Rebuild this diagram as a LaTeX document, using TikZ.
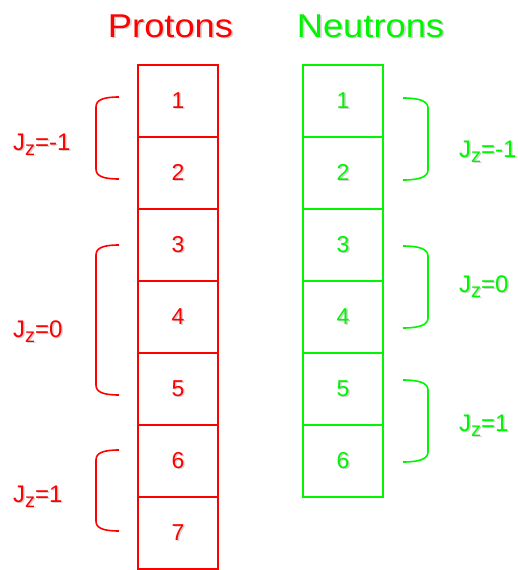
\documentclass[tikz,border=0pt]{standalone}
\usepackage{fontspec}
\setmainfont{Liberation Sans}
\definecolor{pcol}{RGB}{255,0,0}
\definecolor{ncol}{RGB}{0,245,0}
% text with a soft grey drop shadow
\newcommand\shtext[1]{\rlap{\kern1.5pt\raisebox{-1.5pt}{\textcolor{black!18}{#1}}}#1}
\newcommand\jz[1]{\shtext{J\raisebox{-5pt}{\fontsize{20}{20}\selectfont z}=#1}}
% left bracket: colour, top y, bottom y
\newcommand\lbracket[3]{\draw[brk,#1] (119,#2) .. controls (103,#2) and (96,{#2+3}) .. (96,{#2+10}) -- (96,{#3-10}) .. controls (96,{#3-3}) and (103,#3) .. (119,#3);}
% right bracket: colour, top y, bottom y
\newcommand\rbracket[3]{\draw[brk,#1] (403,#2) .. controls (419,#2) and (428,{#2+3}) .. (428,{#2+10}) -- (428,{#3-10}) .. controls (428,{#3-3}) and (419,#3) .. (403,#3);}
\tikzset{
  cell/.style={draw, line width=2pt, minimum width=80pt, minimum height=72pt,
    inner sep=0pt, font=\fontsize{23}{26}\selectfont},
  pcell/.style={cell, draw=pcol, text=pcol},
  ncell/.style={cell, draw=ncol, text=ncol},
  brk/.style={line width=1.6pt},
  title/.style={font=\fontsize{33}{38}\selectfont, inner sep=0pt, anchor=base},
  jlabel/.style={font=\fontsize{24}{28}\selectfont, inner sep=0pt, anchor=base west}
}
\begin{document}
\begin{tikzpicture}[x=1pt,y=-1pt]
\useasboundingbox (0,0) rectangle (517,570);
% column titles
\node[title, text=pcol] (ptitle) at (170.5,37) {\scalebox{1.1}[1]{\shtext{Protons}}};
\node[title, text=ncol] (ntitle) at (370.5,37) {\scalebox{1.1}[1]{\shtext{Neutrons}}};
% proton levels
\foreach \i in {1,...,7}
  \node[pcell] (p\i) at (178,{101+72*(\i-1)}) {\shtext{\i}};
% neutron levels
\foreach \i in {1,...,6}
  \node[ncell] (n\i) at (343,{101+72*(\i-1)}) {\shtext{\i}};
% proton groupings
\lbracket{pcol}{97}{179}
\lbracket{pcol}{245}{395}
\lbracket{pcol}{450}{531}
\node[jlabel, text=pcol] (pj1) at (13,150) {\jz{-1}};
\node[jlabel, text=pcol] (pj2) at (13,337) {\jz{0}};
\node[jlabel, text=pcol] (pj3) at (13,502) {\jz{1}};
% neutron groupings
\rbracket{ncol}{98}{180}
\rbracket{ncol}{246}{328}
\rbracket{ncol}{380}{462}
\node[jlabel, text=ncol] (nj1) at (459,157) {\jz{-1}};
\node[jlabel, text=ncol] (nj2) at (459,292) {\jz{0}};
\node[jlabel, text=ncol] (nj3) at (459,431) {\jz{1}};
\end{tikzpicture}
\end{document}
